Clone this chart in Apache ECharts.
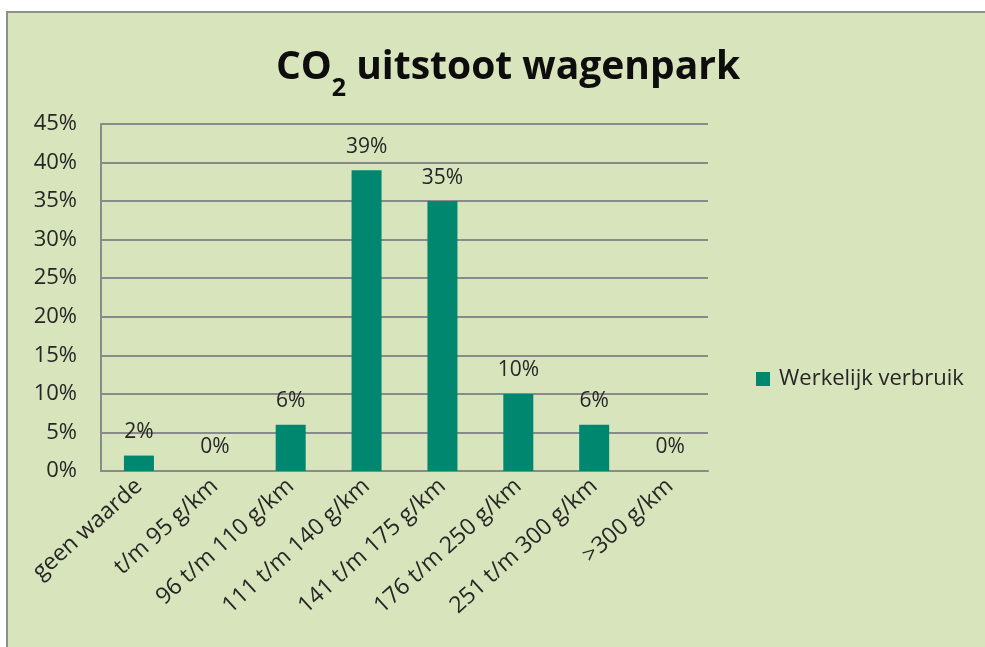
<!DOCTYPE html>
<html>
<head>
<meta charset="utf-8">
<script src="https://cdn.jsdelivr.net/npm/echarts@6/dist/echarts.min.js"></script>
<style>
html,body{margin:0;padding:0;background:#ffffff;}
#c{width:985px;height:647px;}
</style>
</head>
<body>
<div id="c"></div>
<script>
const categories = ["geen waarde", "t/m 95 g/km", "96 t/m 110 g/km", "111 t/m 140 g/km", "141 t/m 175 g/km", "176 t/m 250 g/km", "251 t/m 300 g/km", ">300 g/km"];
const seriesName = "Werkelijk verbruik";
const values = [2, 0, 6, 39, 35, 10, 6, 0];
const yTicks = [0, 5, 10, 15, 20, 25, 30, 35, 40, 45];

const chart = echarts.init(document.getElementById('c'), null, {renderer: 'canvas'});
const FONT = "'Open Sans', 'Noto Sans', sans-serif";
const option = {
  backgroundColor: '#ffffff',
  animation: false,
  graphic: [{
    type: 'rect', z: -10,
    shape: {x: 7, y: 12, width: 990, height: 650},
    style: {fill: '#D8E4BC', stroke: '#8f8f8f', lineWidth: 2}
  }],
  title: {
    text: '{a|CO}{s|2}{a| uitstoot wagenpark}',
    left: 503, top: 34, textAlign: 'center',
    textStyle: {
      rich: {
        a: {fontFamily: FONT, fontSize: 39, fontWeight: 'bold', color: '#0d0d0d', verticalAlign: 'bottom', lineHeight: 48},
        s: {fontFamily: FONT, fontSize: 25, fontWeight: 'bold', color: '#0d0d0d', padding: [0,0,-14,0], verticalAlign: 'bottom', lineHeight: 48}
      }
    }
  },
  legend: {
    data: [seriesName],
    left: 751, top: 363,
    itemWidth: 14, itemHeight: 14, itemGap: 6,
    icon: 'rect',
    textStyle: {fontFamily: FONT, fontSize: 22, color: '#262626', padding: [0,0,0,4]}
  },
  grid: {left: 101, right: 277, top: 124, bottom: 176, containLabel: false},
  xAxis: {
    type: 'category', data: categories,
    axisLine: {lineStyle: {color: '#8a8a8a', width: 2}},
    axisTick: {show: false},
    axisLabel: {rotate: 42, interval: 0, fontFamily: FONT, fontSize: 23, color: '#262626', margin: 12}
  },
  yAxis: {
    type: 'value', min: 0, max: 45, interval: 5,
    axisLine: {show: true, lineStyle: {color: '#8a8a8a', width: 2}},
    axisTick: {show: false},
    splitLine: {lineStyle: {color: '#8a8a8a', width: 2}},
    axisLabel: {formatter: v => yTicks.includes(v) ? v + '%' : '', fontFamily: FONT, fontSize: 22, color: '#262626', margin: 24}
  },
  series: [{
    name: seriesName, type: 'bar', data: values, barWidth: 30,
    itemStyle: {color: '#00876F'},
    label: {show: true, position: 'top', distance: 13, formatter: p => p.value + '%', fontFamily: FONT, fontSize: 21, color: '#262626'}
  }]
};
chart.setOption(option);
</script>
</body>
</html>
